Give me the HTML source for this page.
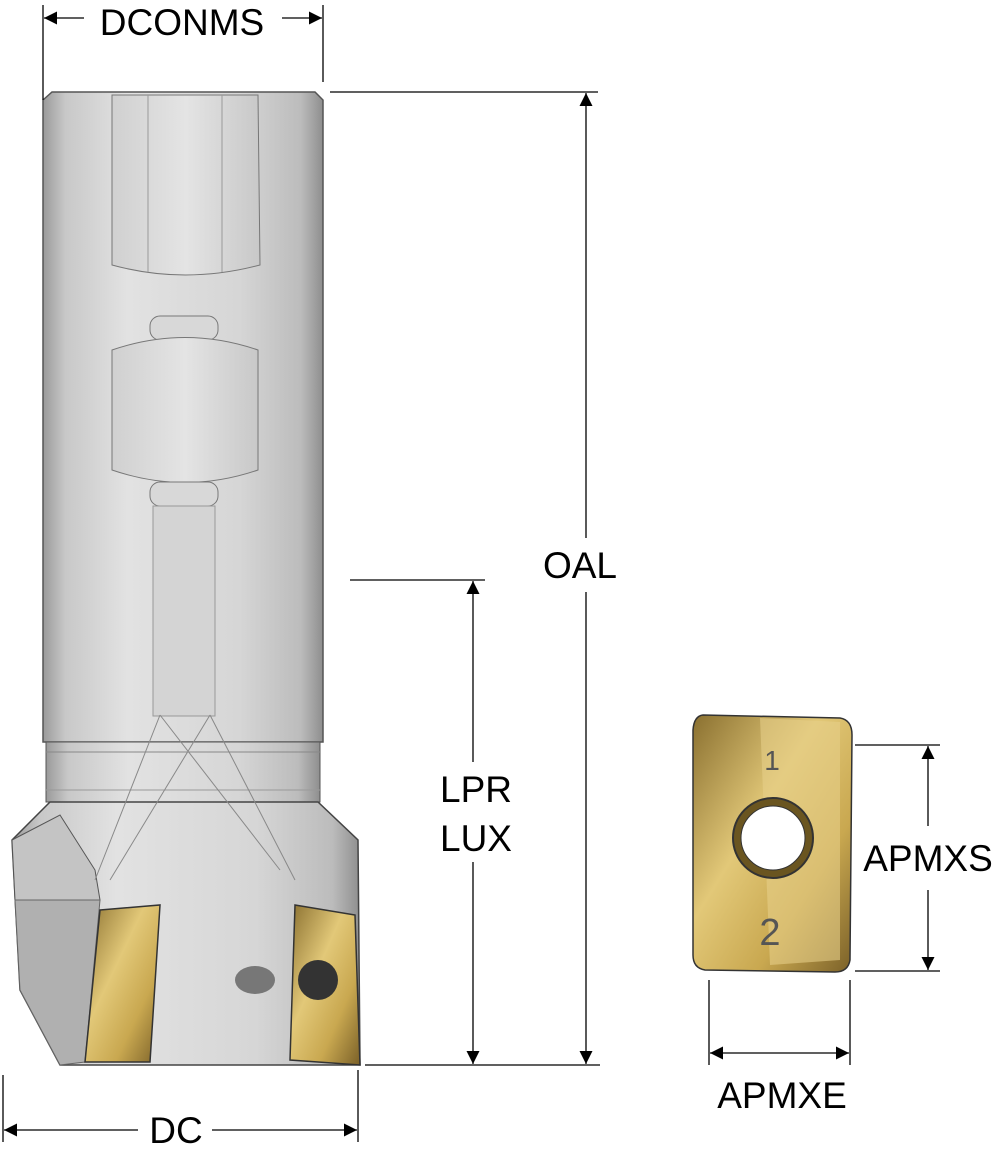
<!DOCTYPE html>
<html><head><style>
html,body{margin:0;padding:0;background:#fff;}
svg{display:block;}
text{font-family:"Liberation Sans",sans-serif;font-size:37px;fill:#000;}
</style></head><body>
<svg width="998" height="1154" viewBox="0 0 998 1154" xmlns="http://www.w3.org/2000/svg">
<defs>
<linearGradient id="sh" x1="0" x2="1" y1="0" y2="0">
<stop offset="0" stop-color="#9a9a9a"/><stop offset="0.08" stop-color="#c8c8c8"/>
<stop offset="0.3" stop-color="#e2e2e2"/><stop offset="0.7" stop-color="#d6d6d6"/>
<stop offset="0.92" stop-color="#bcbcbc"/><stop offset="1" stop-color="#8e8e8e"/>
</linearGradient>
<linearGradient id="fl" x1="0" x2="1"><stop offset="0" stop-color="#d0d0d0"/><stop offset="0.5" stop-color="#e4e4e4"/><stop offset="1" stop-color="#c8c8c8"/></linearGradient>
<linearGradient id="gd" x1="0" x2="1" y1="0" y2="1"><stop offset="0" stop-color="#8a7030"/><stop offset="0.4" stop-color="#e2c878"/><stop offset="0.7" stop-color="#c9a850"/><stop offset="1" stop-color="#7a6028"/></linearGradient>
<marker id="a" viewBox="0 0 10 10" refX="10" refY="5" markerWidth="10" markerHeight="10" orient="auto-start-reverse"><path d="M0,0L10,5L0,10z" fill="#000"/></marker>
</defs>
<path d="M43,100 L52,92 L315,92 L323,100 L323,742 L43,742 Z" fill="url(#sh)" stroke="#555" stroke-width="1.5"/>
<path d="M112,95 L258,95 L260,265 Q185,285 112,265 Z" fill="url(#fl)" stroke="#777"/>
<line x1="148" y1="95" x2="148" y2="272" stroke="#999"/><line x1="222" y1="95" x2="222" y2="272" stroke="#999"/>
<rect x="150" y="316" width="68" height="24" rx="10" fill="#d8d8d8" stroke="#777"/>
<path d="M112,350 Q185,325 258,350 L258,470 Q185,495 112,470 Z" fill="url(#fl)" stroke="#777"/>
<rect x="150" y="482" width="68" height="24" rx="10" fill="#d8d8d8" stroke="#777"/>
<rect x="153" y="506" width="62" height="210" fill="#d4d4d4" stroke="#999"/>
<rect x="46" y="742" width="274" height="60" fill="url(#sh)" stroke="#555"/>
<line x1="46" y1="752" x2="320" y2="752" stroke="#888"/>
<line x1="46" y1="790" x2="320" y2="790" stroke="#999"/>
<path d="M50,802 L318,802 L358,840 L360,1065 L60,1065 L20,990 L12,840 Z" fill="url(#sh)" stroke="#444" stroke-width="1.5"/>
<path d="M12,840 L60,815 L95,870 L100,900 L15,900 Z" fill="#c4c4c4" stroke="#555"/>
<path d="M15,900 L100,900 L85,1062 L60,1065 L20,990 Z" fill="#b0b0b0" stroke="#666"/>
<path d="M100,910 L160,905 L150,1062 L85,1062 Z" fill="url(#gd)" stroke="#333" stroke-width="1.5"/>
<path d="M295,905 L355,915 L360,1065 L290,1060 Z" fill="url(#gd)" stroke="#333" stroke-width="1.5"/>
<circle cx="318" cy="980" r="20" fill="#333"/>
<ellipse cx="255" cy="980" rx="20" ry="14" fill="#777"/>
<g stroke="#888" fill="none"><line x1="160" y1="715" x2="95" y2="880"/><line x1="210" y1="715" x2="295" y2="880"/><line x1="160" y1="715" x2="280" y2="870"/><line x1="210" y1="715" x2="110" y2="880"/></g>
<path d="M703,715 L840,718 Q852,720 852,735 L850,960 Q848,972 835,972 L705,970 Q693,968 693,955 L693,730 Q694,716 703,715 Z" fill="url(#gd)" stroke="#333" stroke-width="1.5"/>
<path d="M760,718 L840,722 L840,960 L770,965 Z" fill="#e6cf88" opacity="0.6"/>
<circle cx="773" cy="838" r="40" fill="#6a5520" stroke="#333" stroke-width="2"/>
<circle cx="773" cy="838" r="32" fill="#fff" stroke="#333"/>
<text x="772" y="770" style="font-size:28px;fill:#555" text-anchor="middle">1</text>
<text x="770" y="945" style="font-size:38px;fill:#555" text-anchor="middle">2</text>
<g stroke="#000" stroke-width="1.3" fill="none">
<line x1="43" y1="5" x2="43" y2="100"/><line x1="323" y1="5" x2="323" y2="82"/>
<line x1="44" y1="18" x2="84" y2="18" marker-start="url(#a)"/><line x1="282" y1="18" x2="322" y2="18" marker-end="url(#a)"/>
<line x1="330" y1="92" x2="598" y2="92"/>
<line x1="586" y1="93" x2="586" y2="538" marker-start="url(#a)"/><line x1="586" y1="592" x2="586" y2="1064" marker-end="url(#a)"/>
<line x1="350" y1="580" x2="485" y2="580"/>
<line x1="473" y1="581" x2="473" y2="762" marker-start="url(#a)"/><line x1="473" y1="862" x2="473" y2="1064" marker-end="url(#a)"/>
<line x1="365" y1="1065" x2="600" y2="1065"/>
<line x1="3" y1="1075" x2="3" y2="1142"/><line x1="358" y1="1070" x2="358" y2="1142"/>
<line x1="4" y1="1130" x2="138" y2="1130" marker-start="url(#a)"/><line x1="212" y1="1130" x2="357" y2="1130" marker-end="url(#a)"/>
<line x1="855" y1="745" x2="940" y2="745"/><line x1="855" y1="971" x2="940" y2="971"/>
<line x1="928" y1="746" x2="928" y2="826" marker-start="url(#a)"/><line x1="928" y1="890" x2="928" y2="970" marker-end="url(#a)"/>
<line x1="709" y1="980" x2="709" y2="1065"/><line x1="850" y1="980" x2="850" y2="1065"/>
<line x1="710" y1="1053" x2="849" y2="1053" marker-start="url(#a)" marker-end="url(#a)"/>
</g>
<text x="182" y="35" text-anchor="middle">DCONMS</text>
<text x="580" y="578" text-anchor="middle">OAL</text>
<text x="476" y="802" text-anchor="middle">LPR</text>
<text x="476" y="851" text-anchor="middle">LUX</text>
<text x="176" y="1143" text-anchor="middle">DC</text>
<text x="928" y="871" text-anchor="middle">APMXS</text>
<text x="782" y="1108" text-anchor="middle">APMXE</text>
</svg>
</body></html>
